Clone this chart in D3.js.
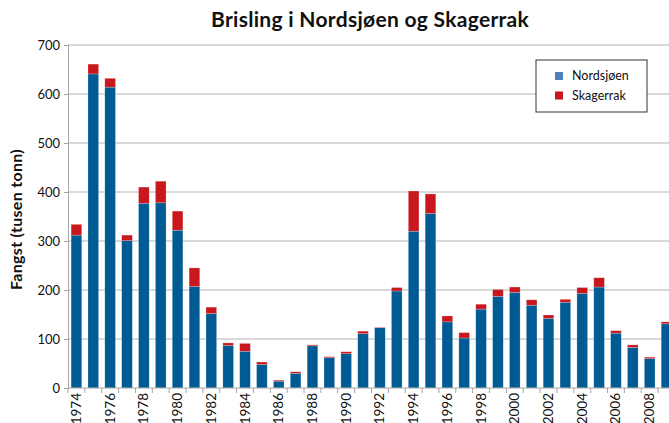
<!DOCTYPE html>
<html>
<head>
<meta charset="utf-8">
<script src="https://cdn.jsdelivr.net/npm/d3@7"></script>
<style>
  body { margin: 0; background: #fff; overflow: hidden; }
  svg { display: block; font-family: Lato, "Open Sans", sans-serif; }
</style>
</head>
<body>
<div id="chart"></div>
<script>
'use strict';

const years = d3.range(1974, 2010);
const nordsjoen = [312, 641, 614, 301, 377, 378, 322, 207, 152, 87,
  75, 48, 14, 30, 86, 62, 70, 111, 123, 198,
  320, 356, 135, 102, 161, 187, 195, 169, 142, 175,
  193, 206, 112, 83, 60, 131];
const skagerrak = [22, 20, 18, 11, 33, 44, 39, 38, 13, 5,
  16, 5, 2, 3, 2, 2, 4, 5, 1, 7,
  82, 40, 12, 11, 10, 14, 11, 11, 7, 6,
  12, 19, 5, 5, 3, 4];
const yTicks = [0, 100, 200, 300, 400, 500, 600, 700];
const seriesNames = ['Nordsjøen', 'Skagerrak'];
const colors = ['#005b94', '#c8171d'];
const legendColors = ['#4f81bd', '#c8171d'];

const W = 669, H = 423;
const margin = { left: 68, top: 45, bottom: 35 };
const plotW = 36 * 16.86;
const plotH = H - margin.top - margin.bottom;

const svg = d3.select('#chart').append('svg')
    .attr('width', W)
    .attr('height', H);

const x = d3.scaleBand().domain(years).range([0, plotW]).paddingInner(0.37).paddingOuter(0.185);
const y = d3.scaleLinear().domain([0, 700]).range([plotH, 0]);

const g = svg.append('g').attr('transform', `translate(${margin.left},${margin.top})`);

// gridlines
g.append('g')
  .selectAll('line')
  .data(yTicks.slice(1))
  .enter().append('line')
    .attr('x1', 0).attr('x2', plotW)
    .attr('y1', d => y(d)).attr('y2', d => y(d))
    .attr('stroke', '#b3b3b3').attr('stroke-width', 1);

// stacked bars
const rows = years.map((yr, i) => ({ year: yr, Nordsjøen: nordsjoen[i], Skagerrak: skagerrak[i] }));
const stack = d3.stack().keys(seriesNames)(rows);

g.selectAll('.layer')
    .data(stack)
  .enter().append('g')
    .attr('class', 'layer')
    .attr('fill', (d, i) => colors[i])
  .selectAll('rect')
    .data(d => d)
  .enter().append('rect')
    .attr('x', d => x(d.data.year))
    .attr('width', x.bandwidth())
    .attr('y', d => y(d[1]))
    .attr('height', d => y(d[0]) - y(d[1]))
    .attr('stroke', 'rgba(255,255,255,0.35)')
    .attr('stroke-width', 0.6);

// y axis
const yAxis = g.append('g')
    .call(d3.axisLeft(y).tickValues(yTicks).tickSize(4).tickPadding(4));
yAxis.select('.domain').attr('stroke', '#a6a6a6');
yAxis.selectAll('.tick line').attr('stroke', '#a6a6a6');
yAxis.selectAll('.tick text').attr('font-size', 13).attr('fill', '#111').attr('font-family', 'Lato');

// x axis: ticks at category boundaries, labels on even years
const xg = g.append('g').attr('transform', `translate(0,${plotH})`);
xg.append('line')
    .attr('x1', 0).attr('x2', plotW)
    .attr('stroke', '#a6a6a6');
xg.selectAll('.bt')
    .data(d3.range(0, 37))
  .enter().append('line')
    .attr('class', 'bt')
    .attr('x1', i => i * x.step()).attr('x2', i => i * x.step())
    .attr('y1', 0).attr('y2', 5)
    .attr('stroke', '#a6a6a6');
xg.selectAll('text')
    .data(years.filter(d => d % 2 === 0))
  .enter().append('text')
    .attr('transform', d => `translate(${x(d) + x.bandwidth() / 2 + 4.5},5) rotate(-90)`)
    .attr('text-anchor', 'end')
    .attr('font-size', 13.5)
    .attr('fill', '#111')
    .text(d => d);

// title
svg.append('text')
    .attr('x', 370).attr('y', 27)
    .attr('text-anchor', 'middle')
    .attr('font-size', 21).attr('font-weight', 'bold')
    .attr('letter-spacing', 0.3)
    .attr('fill', '#111')
    .text('Brisling i Nordsjøen og Skagerrak');

// y label
svg.append('text')
    .attr('transform', `translate(22,${margin.top + plotH / 2 + 3}) rotate(-90)`)
    .attr('text-anchor', 'middle')
    .attr('font-size', 16).attr('font-weight', 'bold')
    .attr('letter-spacing', 0.3)
    .attr('fill', '#111')
    .text('Fangst (tusen tonn)');

// legend
const lg = svg.append('g').attr('transform', 'translate(536,60)');
lg.append('rect')
    .attr('width', 111).attr('height', 52)
    .attr('fill', '#fff').attr('stroke', '#333').attr('stroke-width', 1);
seriesNames.forEach((name, i) => {
  lg.append('rect')
      .attr('x', 19).attr('y', 12 + i * 19.5)
      .attr('width', 8).attr('height', 8)
      .attr('fill', legendColors[i]);
  lg.append('text')
      .attr('x', 36).attr('y', 20 + i * 19.5)
      .attr('font-size', 12.5).attr('fill', '#111')
      .text(name);
});
</script>
</body>
</html>
